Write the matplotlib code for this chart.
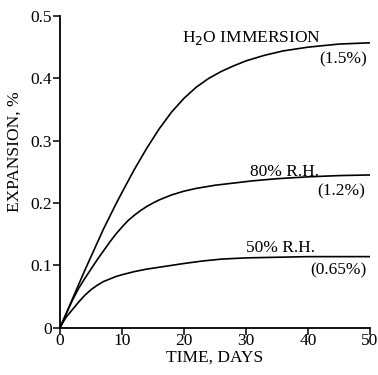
import matplotlib
matplotlib.use("Agg")
import matplotlib.pyplot as plt

days_h2o = [0, 1, 2, 3, 4, 5, 6, 7, 8, 9, 10, 12, 14, 16, 18, 20, 22, 24, 26, 28, 30, 33, 36, 40, 45, 50]
exp_h2o = [0, 0.023, 0.046, 0.069, 0.092, 0.114, 0.136, 0.158, 0.178, 0.198, 0.217,
           0.254, 0.288, 0.319, 0.346, 0.368, 0.386, 0.400, 0.411, 0.420, 0.428,
           0.437, 0.444, 0.450, 0.455, 0.457]

days_80 = [0, 1, 2, 3, 4, 5, 6, 7, 8, 9, 10, 11, 12, 13, 14, 15, 16, 18, 20, 22, 25, 28, 31, 35, 40, 45, 50]
exp_80 = [0, 0.022, 0.044, 0.063, 0.079, 0.094, 0.109, 0.123, 0.137, 0.150, 0.1615,
          0.172, 0.1805, 0.188, 0.1945, 0.200, 0.205, 0.213, 0.219, 0.2235, 0.2285,
          0.232, 0.2355, 0.239, 0.242, 0.244, 0.245]

days_50 = [0, 0.5, 1, 2, 3, 4, 5, 6, 7, 8, 9, 10, 12, 14, 16, 18, 20, 23, 26, 30, 35, 40, 50]
exp_50 = [0, 0.009, 0.017, 0.029, 0.041, 0.052, 0.061, 0.068, 0.074, 0.078, 0.082,
          0.085, 0.090, 0.094, 0.097, 0.100, 0.103, 0.107, 0.110, 0.112, 0.113, 0.114, 0.114]

xticks = [0, 10, 20, 30, 40, 50]
yticks = [0, 0.1, 0.2, 0.3, 0.4, 0.5]
ytick_labels = ["0", "0.1", "0.2", "0.3", "0.4", "0.5"]

plt.rcParams['font.family'] = ['Liberation Serif', 'DejaVu Serif']

fig = plt.figure(figsize=(3.78, 3.75), dpi=100)
ax = fig.add_axes([60/378, 1-327.7/375, 310/378, (327.7-16)/375])

for d, e in [(days_h2o, exp_h2o), (days_80, exp_80), (days_50, exp_50)]:
    ax.plot(d, e, color='black', lw=1.2, clip_on=False, solid_capstyle='butt',
            solid_joinstyle='round')

ax.set_xlim(0, 50)
ax.set_ylim(0, 0.5)
ax.set_xticks(xticks)
ax.set_xticklabels([str(t) for t in xticks])
ax.set_yticks(yticks)
ax.set_yticklabels(ytick_labels)
for s in ['top', 'right']:
    ax.spines[s].set_visible(False)
for s in ['left', 'bottom']:
    ax.spines[s].set_linewidth(1.3)
ax.tick_params(direction='out', length=5, width=1.1, labelsize=12.5, pad=1)
ax.tick_params(axis='x', pad=-1)

ax.set_xlabel("TIME, DAYS", fontsize=12.5, labelpad=0.5)
ax.set_ylabel("EXPANSION, %", fontsize=12.5)
ax.yaxis.set_label_coords(-0.12, 0.564)

fs = 12.5
ax.text(30.9, 0.459, "H$_2$O IMMERSION", fontsize=fs, ha='center', va='baseline')
ax.text(49.5, 0.431, "(1.5%)", fontsize=fs, ha='right', va='center')
ax.text(36.2, 0.244, "80% R.H.", fontsize=fs, ha='center', va='baseline')
ax.text(49.2, 0.219, "(1.2%)", fontsize=fs, ha='right', va='center')
ax.text(35.6, 0.122, "50% R.H.", fontsize=fs, ha='center', va='baseline')
ax.text(49.4, 0.0926, "(0.65%)", fontsize=fs, ha='right', va='center')

fig.savefig("out.png", dpi=100)
